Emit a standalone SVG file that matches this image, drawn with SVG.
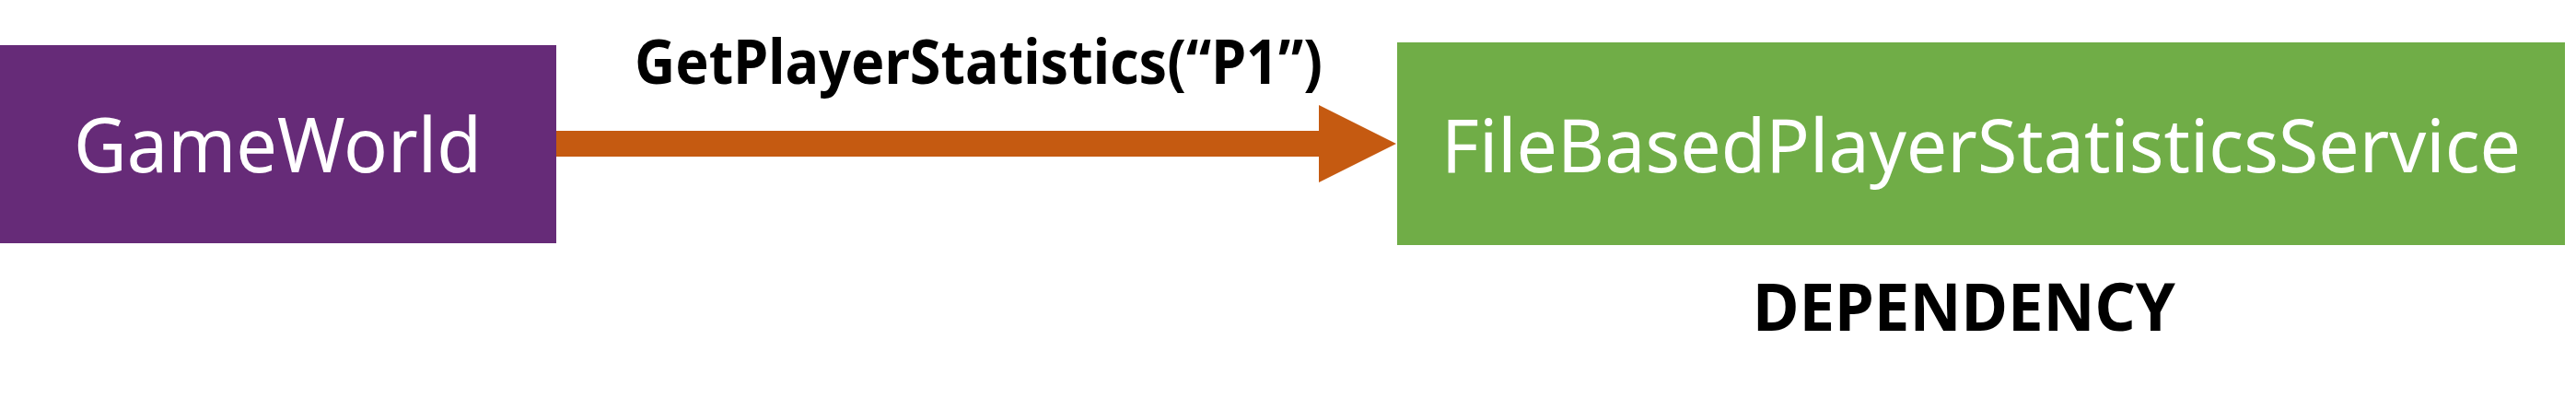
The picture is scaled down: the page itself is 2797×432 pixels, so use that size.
<svg xmlns="http://www.w3.org/2000/svg" width="2797" height="432" viewBox="0 0 2797 432">
<style>
.lbl{font-family:"Noto Sans","Open Sans","Liberation Sans",sans-serif;fill:#FFFFFF;}
.bold{font-family:"Noto Sans","Open Sans","Liberation Sans",sans-serif;font-weight:bold;fill:#000000;}
</style>
<rect width="2797" height="432" fill="#FFFFFF"/>
<g id="connectors">
<polygon points="604,142 1432,142 1432,114 1516,156 1432,198 1432,170 604,170" fill="#C55A11"/>
<text class="bold" x="689" y="91" font-size="66" textLength="747" lengthAdjust="spacingAndGlyphs">GetPlayerStatistics(“P1”)</text>
</g>
<g id="GameWorld">
<rect x="0" y="49" width="604" height="215" fill="#662B78"/>
<text class="lbl" x="80" y="187" font-size="82" textLength="443" lengthAdjust="spacingAndGlyphs">GameWorld</text>
</g>
<g id="FileBasedPlayerStatisticsService">
<rect x="1517" y="46" width="1268" height="220" fill="#70AD47"/>
<text class="lbl" x="1565" y="187" font-size="80" textLength="1172" lengthAdjust="spacingAndGlyphs">FileBasedPlayerStatisticsService</text>
<text class="bold" x="1903" y="359" font-size="71" textLength="459" lengthAdjust="spacingAndGlyphs">DEPENDENCY</text>
</g>
</svg>
